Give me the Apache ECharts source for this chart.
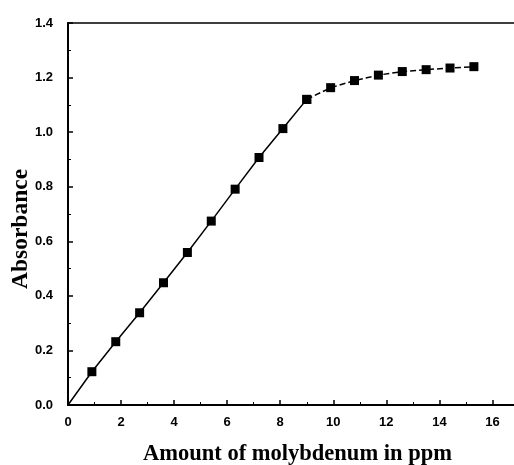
<!DOCTYPE html>
<html><head><meta charset="utf-8">
<script src="https://cdn.jsdelivr.net/npm/echarts@6/dist/echarts.min.js"></script>
<style>html,body{margin:0;padding:0;background:#fff}#c{width:514px;height:465px}</style>
</head><body><div id="c"></div>
<script>
const amountPpm = [0, 0.9, 1.8, 2.7, 3.6, 4.5, 5.4, 6.3, 7.2, 8.1, 9.0, 9.9, 10.8, 11.7, 12.6, 13.5, 14.4, 15.3];
const absorbance = [0, 0.122, 0.232, 0.338, 0.448, 0.559, 0.674, 0.791, 0.907, 1.013, 1.120, 1.163, 1.189, 1.209, 1.222, 1.229, 1.235, 1.240];
const xTicks = [0, 2, 4, 6, 8, 10, 12, 14, 16];
const yTicks = [0.0, 0.2, 0.4, 0.6, 0.8, 1.0, 1.2, 1.4];
const breakX = 9.0;

const solidPts = [], dashPts = [];
amountPpm.forEach((x, i) => {
  const p = {value: [x, absorbance[i]]};
  if (x === 0) p.symbol = 'none';
  if (x <= breakX) solidPts.push(p);
  if (x >= breakX) dashPts.push({value: [x, absorbance[i]]});
});

const chart = echarts.init(document.getElementById('c'), null, {renderer: 'canvas'});
const tickFont = {color: '#000', fontFamily: 'Liberation Sans, Arial, sans-serif', fontWeight: 'bold', fontSize: 13};
chart.setOption({
  animation: false,
  grid: {left: 68, top: 23, right: -5, bottom: 60, containLabel: false, outerBoundsMode: 'none',
         show: true, borderColor: '#000', borderWidth: 1.5},
  xAxis: {
    type: 'value', min: 0, max: 17, interval: 2,
    name: 'Amount of molybdenum in ppm', nameLocation: 'middle', nameGap: 38, nameMoveOverlap: false,
    nameTextStyle: {fontFamily: 'Liberation Serif, Times New Roman, serif', fontWeight: 'bold', fontSize: 22.5, color: '#000', padding: [0, 0, 0, 8]},
    axisLine: {lineStyle: {color: '#000', width: 2}},
    axisTick: {inside: true, length: 5, lineStyle: {width: 1.5}},
    minorTick: {show: true, splitNumber: 2, length: 3, lineStyle: {color: '#000', width: 1}},
    axisLabel: Object.assign({margin: 11, showMaxLabel: false, formatter: v => xTicks.includes(v) ? String(v) : ''}, tickFont),
    splitLine: {show: false}
  },
  yAxis: {
    type: 'value', min: 0, max: 1.4, interval: 0.2,
    name: 'Absorbance', nameLocation: 'middle', nameGap: 35, nameMoveOverlap: false,
    nameTextStyle: {fontFamily: 'Liberation Serif, Times New Roman, serif', fontWeight: 'bold', fontSize: 23.5, color: '#000', padding: [0, 30, 0, 0]},
    axisLine: {lineStyle: {color: '#000', width: 2}},
    axisTick: {inside: true, length: 5, lineStyle: {width: 1.5}},
    minorTick: {show: true, splitNumber: 2, length: 3, lineStyle: {color: '#000', width: 1}},
    axisLabel: Object.assign({margin: 15, formatter: v => {const t = yTicks.find(y => Math.abs(y - v) < 1e-9); return t === undefined ? '' : t.toFixed(1);}}, tickFont),
    splitLine: {show: false}
  },
  series: [
    {type: 'line', data: solidPts, symbol: 'rect', symbolSize: 9, itemStyle: {color: '#000'},
     lineStyle: {color: '#000', width: 1.5}},
    {type: 'line', data: dashPts, symbol: 'rect', symbolSize: 9, itemStyle: {color: '#000'},
     lineStyle: {color: '#000', width: 1.5, type: [6, 3]}}
  ]
});
</script></body></html>
